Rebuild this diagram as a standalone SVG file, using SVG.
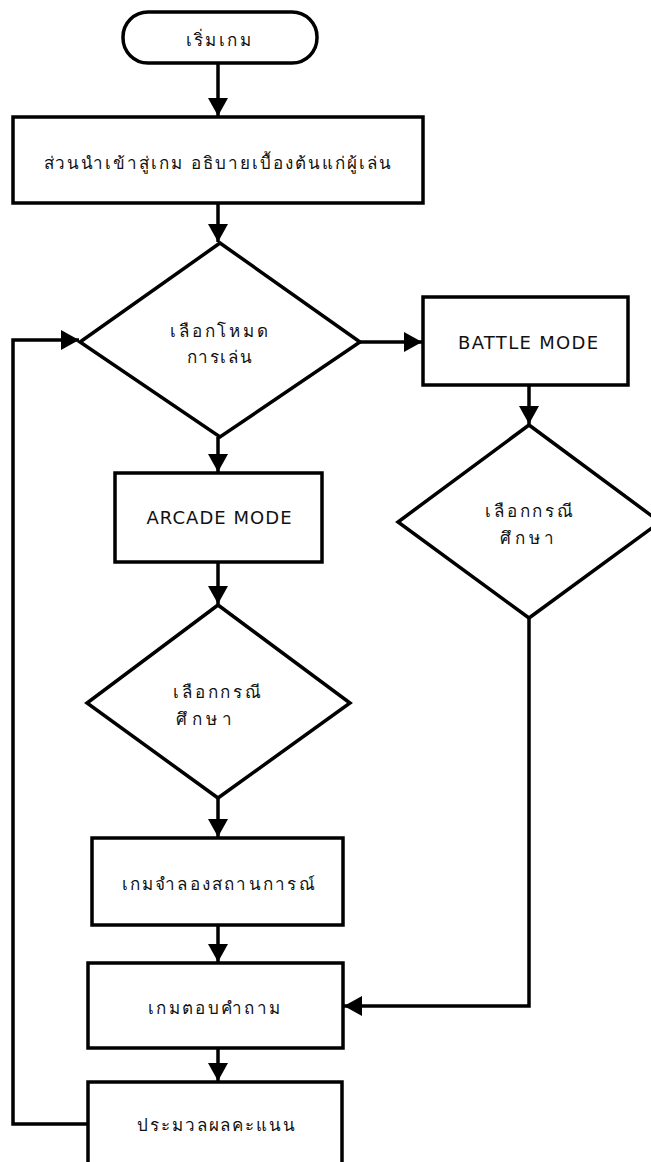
<svg xmlns="http://www.w3.org/2000/svg" width="651" height="1162" viewBox="0 0 651 1162">
<style>
.s{fill:#fff;stroke:#000;stroke-width:3.5}
.c{fill:none;stroke:#000;stroke-width:3.5}
.t{font-family:"Noto Sans","DejaVu Sans",Tahoma,sans-serif;font-size:17px;fill:#111;text-anchor:middle;dominant-baseline:central}
.e{font-family:"DejaVu Sans","Liberation Sans",sans-serif;font-size:18px;fill:#111;text-anchor:middle;dominant-baseline:central}
</style>
<defs>
<marker id="a" markerUnits="userSpaceOnUse" markerWidth="20" markerHeight="20" refX="18" refY="10" orient="auto">
<path d="M0,0 L18,10 L0,20 Z" fill="#000"/>
</marker>
</defs>
<rect width="651" height="1162" fill="#fff"/>
<g id="connectors">
<path class="c" d="M218,63 V116" marker-end="url(#a)"/>
<path class="c" d="M218,203 V242" marker-end="url(#a)"/>
<path class="c" d="M360,342 H422" marker-end="url(#a)"/>
<path class="c" d="M218,437 V472" marker-end="url(#a)"/>
<path class="c" d="M529,385 V424" marker-end="url(#a)"/>
<path class="c" d="M218,562 V604" marker-end="url(#a)"/>
<path class="c" d="M218,798 V837" marker-end="url(#a)"/>
<path class="c" d="M218,925 V962" marker-end="url(#a)"/>
<path class="c" d="M218,1048 V1081" marker-end="url(#a)"/>
<path class="c" d="M529,618 V1006 H344" marker-end="url(#a)"/>
<path class="c" d="M88,1124 H13 V340 H79" marker-end="url(#a)"/>
</g>
<g id="start">
<rect class="s" x="123" y="12" width="194" height="51" rx="25"/>
<text class="t" x="218" y="39" textLength="65" lengthAdjust="spacing">เริ่มเกม</text>
</g>
<g id="intro">
<rect class="s" x="13" y="117" width="410" height="86"/>
<text class="t" x="217" y="162" textLength="347" lengthAdjust="spacing">ส่วนนำเข้าสู่เกม อธิบายเบื้องต้นแก่ผู้เล่น</text>
</g>
<g id="choose-mode">
<polygon class="s" points="220,243 360,342 220,437 80,342"/>
<text class="t" x="219" y="330" textLength="98" lengthAdjust="spacing">เลือกโหมด</text>
<text class="t" x="219" y="356" textLength="65" lengthAdjust="spacing">การเล่น</text>
</g>
<g id="battle">
<rect class="s" x="423" y="297" width="205" height="88"/>
<text class="e" x="528" y="342" textLength="140" lengthAdjust="spacing">BATTLE MODE</text>
</g>
<g id="case-battle">
<polygon class="s" points="529,425 660,522 529,618 398,522"/>
<text class="t" x="529" y="510" textLength="88" lengthAdjust="spacing">เลือกกรณี</text>
<text class="t" x="527" y="537" textLength="54" lengthAdjust="spacing">ศึกษา</text>
</g>
<g id="arcade">
<rect class="s" x="115" y="473" width="207" height="89"/>
<text class="e" x="219" y="517" textLength="145" lengthAdjust="spacing">ARCADE MODE</text>
</g>
<g id="case-arcade">
<polygon class="s" points="218,605 350,703 218,798 87,703"/>
<text class="t" x="217" y="691" textLength="88" lengthAdjust="spacing">เลือกกรณี</text>
<text class="t" x="204" y="718" textLength="56" lengthAdjust="spacing">ศึกษา</text>
</g>
<g id="simulation">
<rect class="s" x="92" y="838" width="251" height="87"/>
<text class="t" x="218" y="883" textLength="193" lengthAdjust="spacing">เกมจำลองสถานการณ์</text>
</g>
<g id="quiz">
<rect class="s" x="88" y="963" width="255" height="85"/>
<text class="t" x="214" y="1007" textLength="132" lengthAdjust="spacing">เกมตอบคำถาม</text>
</g>
<g id="score">
<rect class="s" x="88" y="1082" width="254" height="95"/>
<text class="t" x="216" y="1124" textLength="158" lengthAdjust="spacing">ประมวลผลคะแนน</text>
</g>
</svg>
